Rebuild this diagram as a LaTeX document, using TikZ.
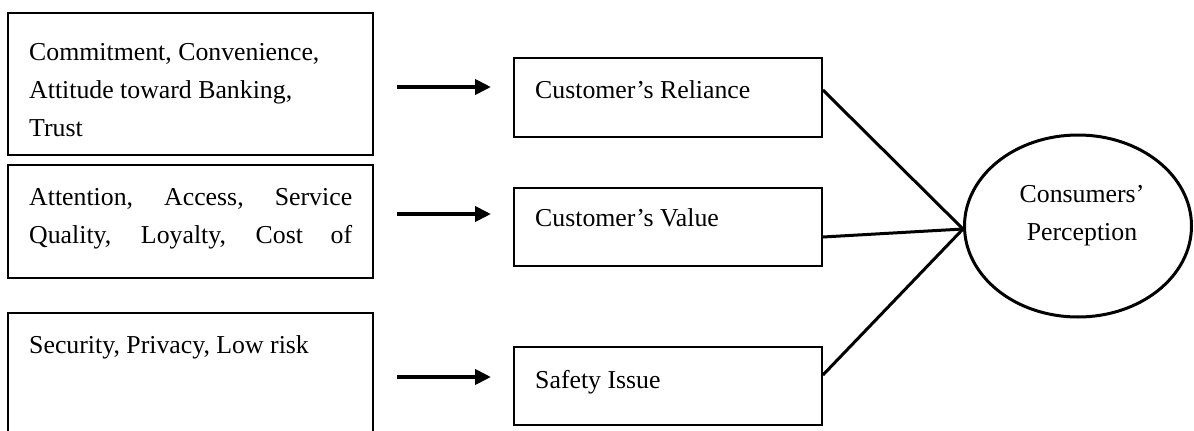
\documentclass[tikz,border=0pt]{standalone}
\usepackage{fontspec}
\setmainfont{Liberation Serif}
\usetikzlibrary{shapes.geometric,arrows.meta}
\begin{document}
\begin{tikzpicture}[x=1pt,y=-1pt,
  box/.style={draw,line width=1.8pt,rectangle,inner sep=0pt},
  txt/.style={anchor=base west,inner sep=0pt,align=left,font=\fontsize{25.8}{37.8}\selectfont},
  arr/.style={line width=3.8pt,-{Triangle[length=16pt,width=15pt]}},
  link/.style={line width=3pt}]
\useasboundingbox (0,0) rectangle (1194,431);
\clip (0,0) rectangle (1194,431);
% left boxes
\node[box,minimum width=365pt,minimum height=142pt] (b1) at (190.5,84) {};
\node[box,minimum width=365pt,minimum height=113pt] (b2) at (190.5,221.5) {};
\node[box,minimum width=365pt,minimum height=140pt] (b3) at (190.5,383) {};
% multi-line nodes: base anchor is the baseline of the last line
\node[txt] (t1) at (29,136) {Commitment, Convenience,\\Attitude toward Banking,\\Trust};
\node[txt] (t2) at (29,243) {\makebox[323pt][s]{Attention, \ Access, \ Service}\\\makebox[323pt][s]{Quality, \ Loyalty, \ Cost \ of}};
\node[txt] (t3) at (29,353) {Security, Privacy, Low risk};
% middle boxes
\node[box,minimum width=308pt,minimum height=79pt] (rel) at (668,97.5) {};
\node[box,minimum width=308pt,minimum height=78pt] (val) at (668,227) {};
\node[box,minimum width=308pt,minimum height=78pt] (saf) at (668,386) {};
\node[txt] (trel) at (535,98) {Customer’s Reliance};
\node[txt] (tval) at (535,226) {Customer’s Value};
\node[txt] (tsaf) at (535,388) {Safety Issue};
% arrows
\coordinate (a1s) at (397,87); \coordinate (a1e) at (491,87);
\coordinate (a2s) at (397,214); \coordinate (a2e) at (491,214);
\coordinate (a3s) at (397,377); \coordinate (a3e) at (491,377);
\draw[arr] (a1s) -- (a1e);
\draw[arr] (a2s) -- (a2e);
\draw[arr] (a3s) -- (a3e);
% ellipse
\node[draw,ellipse,line width=3pt,minimum width=227pt,minimum height=182pt,inner sep=0pt] (ell) at (1078,226) {};
\node[txt,anchor=base,align=center] (tell) at (1082,240) {Consumers’\\Perception};
% links
\draw[link] ([yshift=7.5pt]rel.east) -- ([yshift=-3pt]ell.west);
\draw[link] ([yshift=-10pt]val.east) -- ([yshift=-3pt]ell.west);
\draw[link] ([yshift=11pt]saf.east) -- ([yshift=-3pt]ell.west);
\end{tikzpicture}
\end{document}
